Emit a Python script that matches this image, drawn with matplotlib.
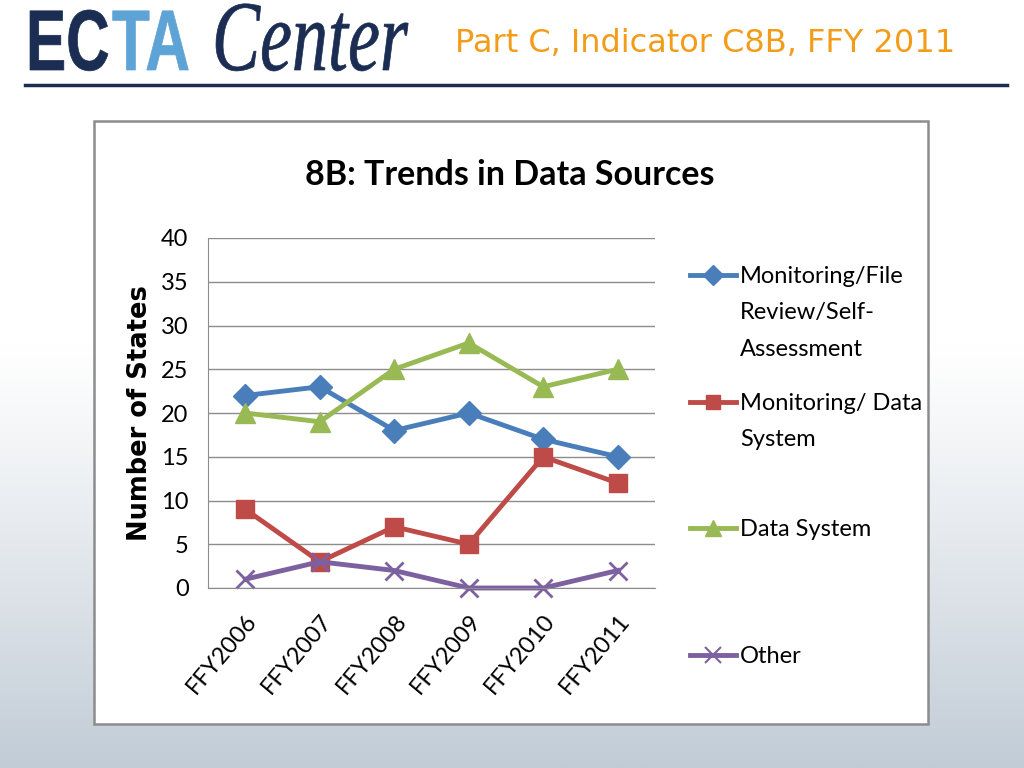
import numpy as np
import matplotlib
matplotlib.use("Agg")
import matplotlib.pyplot as plt
from matplotlib.patches import Rectangle, PathPatch
from matplotlib.lines import Line2D
from matplotlib.textpath import TextPath
from matplotlib.font_manager import FontProperties
from matplotlib.transforms import Affine2D

# ---- data ----
years = ["FFY2006", "FFY2007", "FFY2008", "FFY2009", "FFY2010", "FFY2011"]
file_review = [22, 23, 18, 20, 17, 15]
monitoring_data = [9, 3, 7, 5, 15, 12]
data_system = [20, 19, 25, 28, 23, 25]
other = [1, 3, 2, 0, 0, 2]

series_names = ["Monitoring/File\nReview/Self-\nAssessment", "Monitoring/ Data\nSystem",
                "Data System", "Other"]

W, H = 1024, 768
fig = plt.figure(figsize=(W / 100, H / 100), dpi=100)

# background gradient (white at top, grey-blue at bottom)
bg = fig.add_axes([0, 0, 1, 1], zorder=-10)
t = np.linspace(0, 1, 256)
grad = np.clip((t - 0.45) / 0.55, 0, 1) ** 1.1
top = np.array([1.0, 1.0, 1.0])
bot = np.array([0.76, 0.80, 0.84])
img = top[None, :] * (1 - grad[:, None]) + bot[None, :] * grad[:, None]
bg.imshow(img[:, None, :], aspect="auto", extent=[0, 1, 0, 1], origin="upper")
bg.axis("off")


def logo_text(s, px, py, size, sx, color, fp):
    # condensed text drawn as a path, px/py = left/baseline in pixels from top-left
    path = TextPath((0, 0), s, size=size, prop=fp)
    tr = Affine2D().scale(sx / W, 1 / H).translate(px / W, 1 - py / H) + fig.transFigure
    fig.add_artist(PathPatch(path, facecolor=color, edgecolor=color, lw=0.5, transform=tr))


bold_sans = FontProperties(family="Liberation Sans", weight="bold")
serif_it = FontProperties(family="Liberation Serif", style="italic")
logo_text("EC", 26, 70, 86, 0.70, "#1b2d52", bold_sans)
logo_text("TA", 112, 70, 86, 0.72, "#5ea3d6", bold_sans)
logo_text("Center", 212, 70, 100, 0.72, "#1b2d52", serif_it)

fig.text(455 / W, 1 - 44 / H, "Part C, Indicator C8B, FFY 2011", fontsize=23,
         color="#f39c1a", family="DejaVu Sans", va="center", ha="left")
fig.add_artist(Line2D([25 / W, 1007 / W], [1 - 85 / H, 1 - 85 / H], color="#1b2d52", lw=2.5))

# chart box
fig.add_artist(Rectangle((94 / W, 1 - 724 / H), 834 / W, 603 / H, facecolor="white",
                         edgecolor="#8c8c8c", lw=1.8, transform=fig.transFigure, zorder=0))

fig.text(510 / W, 1 - 175 / H, "8B: Trends in Data Sources", fontsize=24.5, fontweight="bold",
         family="Lato", ha="center", va="center")

ax = fig.add_axes([208 / W, 1 - 588 / H, 447 / W, 350 / H], zorder=2)
ax.set_facecolor("none")
x = np.arange(len(years))
styles = [
    (file_review, "#4a7ebb", "D", 12),
    (monitoring_data, "#be4b48", "s", 12.5),
    (data_system, "#98b954", "^", 14),
    (other, "#7d60a0", "x", 13),
]
for (vals, col, mk, ms), name in zip(styles, series_names):
    ax.plot(x, vals, color=col, lw=3.5, marker=mk, ms=ms, mew=2 if mk == "x" else 1,
            mec=col, mfc=col, clip_on=False)

ax.set_xlim(-0.5, 5.5)
ax.set_ylim(0, 40)
ax.set_yticks(range(0, 41, 5))
ax.set_xticks(x)
ax.set_xticklabels(years, rotation=50, ha="right", rotation_mode="anchor")
ax.tick_params(axis="both", length=0, labelsize=17)
ax.tick_params(axis="y", pad=14)
ax.tick_params(axis="x", pad=16)
for lab in ax.get_xticklabels() + ax.get_yticklabels():
    lab.set_family("Lato")
ax.grid(axis="y", color="#8c8c8c", lw=1)
ax.set_axisbelow(True)
for s in ["top", "right"]:
    ax.spines[s].set_visible(False)
for s in ["left", "bottom"]:
    ax.spines[s].set_color("#8c8c8c")
ax.set_ylabel("Number of States", fontsize=18.5, fontweight="bold", family="DejaVu Sans",
              labelpad=6)

# legend drawn Excel-style: handle aligned with the first line of each label
leg_y = [275, 402, 528, 655]
for (vals, col, mk, ms), name, ly in zip(styles, series_names, leg_y):
    yf = 1 - ly / H
    fig.add_artist(Line2D([690 / W, 736 / W], [yf, yf], color=col, lw=3.5))
    fig.add_artist(Line2D([713 / W], [yf], color=col, marker=mk, ms=ms * 0.85,
                          mew=1.5 if mk == "x" else 1, mec=col, mfc=col))
    fig.text(740 / W, 1 - (ly - 9) / H, name, fontsize=17, family="Lato", ha="left",
             va="top", linespacing=1.9, transform=fig.transFigure)

fig.savefig("out.png", dpi=100)
